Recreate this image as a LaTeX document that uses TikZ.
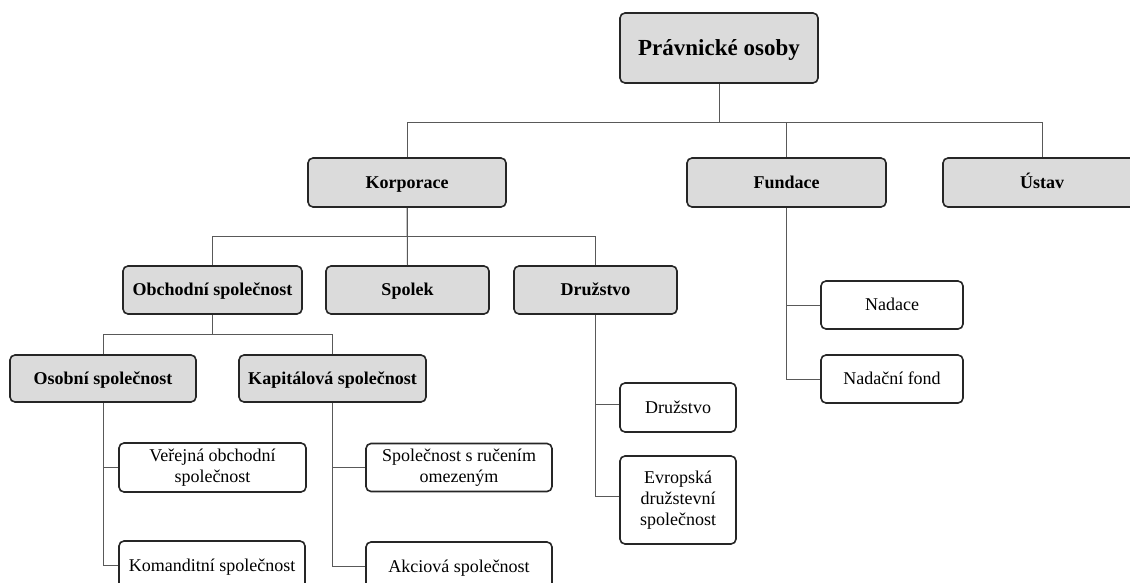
\documentclass[tikz,border=0pt]{standalone}
\usepackage{fontspec}
\setmainfont{Liberation Serif}
\begin{document}
\begin{tikzpicture}[x=1pt,y=-1pt,
  box/.style={draw=black!85,line width=1.6pt,rounded corners=5pt,inner sep=0pt,align=center},
  gbox/.style={box,fill=black!14,font=\fontsize{18}{20}\selectfont\bfseries},
  wbox/.style={box,fill=white,font=\fontsize{18}{21}\selectfont},
  oneline/.style={text height=14pt,text depth=2.5pt},
  conn/.style={draw=black!65,line width=1pt}]
\useasboundingbox (0,0) rectangle (1130,583);
\clip (0,0) rectangle (1130,583);
% level 0
\node[gbox,minimum width=198pt,minimum height=70pt,font=\fontsize{23}{26}\selectfont\bfseries,text height=19pt,text depth=3pt] (root) at (719,48) {Právnické osoby};
% level 1
\node[gbox,oneline,minimum width=198pt,minimum height=49pt] (korp) at (407,182.5) {Korporace};
\node[gbox,oneline,minimum width=199pt,minimum height=49pt] (fund) at (786.5,182.5) {Fundace};
\node[gbox,oneline,minimum width=198pt,minimum height=49pt] (ustav) at (1042,182.5) {Ústav};
% level 2
\node[gbox,oneline,minimum width=179pt,minimum height=48pt] (obch) at (212.5,290) {Obchodní společnost};
\node[gbox,oneline,minimum width=163pt,minimum height=48pt] (spol) at (407.5,290) {Spolek};
\node[gbox,oneline,minimum width=163pt,minimum height=48pt] (druz) at (595.5,290) {Družstvo};
% level 3
\node[gbox,oneline,minimum width=186pt,minimum height=47pt] (osob) at (103,378.5) {Osobní společnost};
\node[gbox,oneline,minimum width=187pt,minimum height=47pt] (kapi) at (332.5,378.5) {Kapitálová společnost};
% leaves
\node[wbox,minimum width=187pt,minimum height=49pt] (vos) at (212.5,467.5) {Veřejná obchodní\\společnost};
\node[wbox,oneline,minimum width=186pt,minimum height=49pt] (ks) at (212,565.5) {Komanditní společnost};
\node[wbox,minimum width=186pt,minimum height=48pt] (sro) at (459,467.5) {Společnost s ručením\\omezeným};
\node[wbox,oneline,minimum width=186pt,minimum height=49pt] (as) at (459,566.5) {Akciová společnost};
\node[wbox,oneline,minimum width=116pt,minimum height=49pt] (druzl) at (678,407.5) {Družstvo};
\node[wbox,minimum width=116pt,minimum height=88pt] (eds) at (678,500) {Evropská\\družstevní\\společnost};
\node[wbox,oneline,minimum width=142pt,minimum height=48pt] (nad) at (892,305) {Nadace};
\node[wbox,oneline,minimum width=142pt,minimum height=48pt] (nf) at (892,379) {Nadační fond};
% connectors
\draw[conn] (root.south) -- ++(0,39) -| (korp.north);
\draw[conn] (root.south) -- ++(0,39) -| (fund.north);
\draw[conn] (root.south) -- ++(0,39) -| (ustav.north);
\draw[conn] (korp.south) -- ++(0,29) -| (obch.north);
\draw[conn] (korp.south) -- (spol.north);
\draw[conn] (korp.south) -- ++(0,29) -| (druz.north);
\draw[conn] (obch.south) -- ++(0,20) -| (osob.north);
\draw[conn] (obch.south) -- ++(0,20) -| (kapi.north);
\draw[conn] (osob.south) |- (vos.west);
\draw[conn] (osob.south) |- (ks.west);
\draw[conn] (kapi.south) |- (sro.west);
\draw[conn] (kapi.south) |- (as.west);
\draw[conn] (druz.south) |- ([yshift=3.5pt]druzl.west);
\draw[conn] (druz.south) |- ([yshift=4pt]eds.west);
\draw[conn] (fund.south) |- (nad.west);
\draw[conn] (fund.south) |- (nf.west);
\end{tikzpicture}
\end{document}
